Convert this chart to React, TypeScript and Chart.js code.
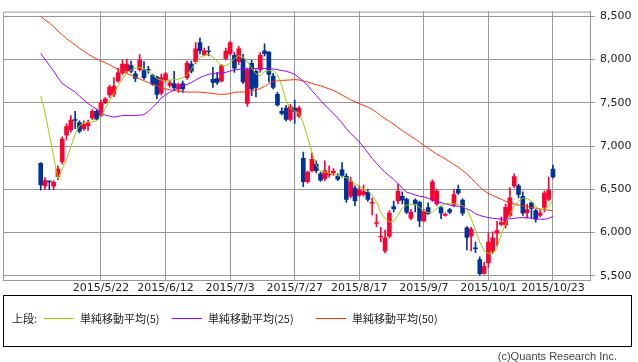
import React, { useEffect, useRef } from 'react';
import { Chart, registerables } from 'chart.js';

Chart.register(...registerables);

// Trading-day index of the first candle (2015/5/22 = 0)
const FIRST_INDEX = -14;

const opens = [
  6800, 6540, 6595, 6535, 6645, 6820, 7125, 7190, 7305, 7270, 7200, 7235, 7325, 7400,
  7350, 7500, 7590, 7600, 7752, 7845, 7870, 7930, 7834, 7881,
  7870, 7885, 7815, 7797, 7611, 7760, 7700, 7722, 7660, 7722,
  7789, 7945, 7974, 8194, 8053, 8095, 7770, 7780, 7752, 8011,
  8067, 8048, 7975, 8010, 7493, 7956, 7863, 7881, 8100, 8085,
  7808, 7597, 7400, 7437, 7308, 7437, 7345, 6857, 6587, 6716,
  6790, 6679, 6624, 6670, 6690, 6650, 6725, 6650, 6420, 6513,
  6430, 6440, 6465, 6340, 6105, 5950, 5790, 5958, 6300, 6365,
  6420, 6383, 6168, 6375, 6350, 6135, 6290, 6375, 6330, 6290,
  6200, 6265, 6317, 6500, 6375, 6055, 5960, 5825, 5690, 5530,
  5650, 5790, 5995, 6095, 6088, 6200, 6540, 6540, 6420, 6227,
  6345, 6254, 6200, 6290, 6383, 6735,
];
const highs = [
  6810, 6635, 6600, 6600, 6770, 7105, 7260, 7350, 7400, 7290, 7290, 7300, 7420, 7420,
  7530, 7560, 7700, 7790, 7900, 7992, 8003, 7980, 7863, 8055,
  7974, 7920, 7830, 7808, 7830, 7850, 7760, 7863, 7730, 7750,
  7980, 7980, 8194, 8249, 8130, 8150, 7908, 7850, 7940, 8130,
  8210, 8080, 8150, 8060, 7900, 7990, 7880, 8080, 8180, 8090,
  7840, 7620, 7440, 7470, 7480, 7530, 7460, 6930, 6710, 6920,
  6830, 6700, 6830, 6770, 6740, 6680, 6810, 6680, 6640, 6540,
  6540, 6550, 6500, 6400, 6215, 6060, 6030, 6254, 6365, 6560,
  6470, 6400, 6270, 6390, 6365, 6270, 6345, 6610, 6500, 6300,
  6230, 6280, 6500, 6550, 6390, 6070, 6060, 5890, 5720, 5660,
  6000, 6010, 6130, 6180, 6330, 6520, 6680, 6560, 6470, 6330,
  6350, 6270, 6270, 6480, 6640, 6780,
];
const lows = [
  6490, 6495, 6495, 6495, 6610, 6790, 7070, 7160, 7200, 7150, 7180, 7180, 7300, 7300,
  7340, 7490, 7560, 7570, 7734, 7826, 7845, 7845, 7744, 7863,
  7768, 7840, 7700, 7548, 7590, 7740, 7680, 7641, 7620, 7620,
  7770, 7845, 7955, 8064, 8040, 8040, 7678, 7710, 7740, 7990,
  8050, 7850, 7940, 7720, 7456, 7580, 7567, 7850, 8040, 7740,
  7660, 7460, 7360, 7290, 7290, 7260, 7330, 6530, 6570, 6700,
  6690, 6590, 6600, 6640, 6660, 6600, 6640, 6350, 6400, 6310,
  6420, 6420, 6360, 6205, 6070, 5895, 5765, 5940, 6240, 6330,
  6330, 6220, 6150, 6240, 6070, 6125, 6210, 6360, 6310, 6160,
  6190, 6220, 6300, 6440, 6200, 5800, 5790, 5770, 5510, 5520,
  5600, 5760, 5850, 6080, 6050, 6180, 6520, 6400, 6200, 6170,
  6170, 6120, 6180, 6240, 6370, 6630,
];
const closes = [
  6550, 6600, 6585, 6580, 6735, 7080, 7225, 7300, 7295, 7170, 7250, 7270, 7400, 7310,
  7500, 7545, 7680, 7690, 7845, 7945, 7945, 7863, 7781, 7992,
  7789, 7878, 7715, 7597, 7789, 7834, 7730, 7670, 7710, 7660,
  7956, 7863, 8122, 8100, 8100, 8088, 7733, 7733, 7930, 8092,
  8190, 7900, 8122, 7740, 7881, 7660, 7678, 8048, 8067, 7826,
  7678, 7475, 7375, 7308, 7456, 7400, 7437, 6587, 6698, 6846,
  6716, 6605, 6716, 6685, 6710, 6617, 6660, 6383, 6587, 6365,
  6494, 6475, 6383, 6350, 6115, 5960, 5940, 6227, 6275, 6476,
  6375, 6235, 6235, 6335, 6135, 6245, 6220, 6587, 6476, 6225,
  6210, 6235, 6440, 6457, 6225, 5945, 6040, 5815, 5525, 5610,
  5890, 5940, 6025, 6117, 6291, 6402, 6646, 6440, 6227, 6265,
  6280, 6154, 6225, 6457, 6487, 6642,
];

const ma5 = [
  7578, 7390, 7134, 6879, 6624, 6735, 6846, 6990, 7134, 7234, 7262, 7273, 7279, 7290,
  7345, 7434, 7523, 7612, 7695, 7772, 7845, 7878, 7900, 7908,
  7895, 7867, 7817, 7778, 7761, 7756, 7759, 7767, 7772, 7789,
  7828, 7889, 7967, 8022, 8050, 8056, 8028, 7978, 7925, 7928,
  7956, 8011, 8044, 8022, 7978, 7900, 7834, 7811, 7856, 7872,
  7872, 7822, 7700, 7523, 7434, 7406, 7378, 7267, 7101, 6934,
  6779, 6712, 6701, 6687, 6674, 6657, 6646, 6634, 6601, 6568,
  6535, 6507, 6479, 6435, 6357, 6235, 6163, 6124, 6130, 6202,
  6285, 6318, 6327, 6324, 6291, 6254, 6230, 6241, 6280, 6313,
  6330, 6341, 6335, 6327, 6313, 6268, 6157, 6035, 5890, 5791,
  5761, 5758, 5824, 5980, 6102, 6213, 6302, 6363, 6398, 6394,
  6363, 6302, 6265, 6269, 6302, 6379,
];
const ma25 = [
  8067, 8000, 7934, 7867, 7789, 7723, 7689, 7656, 7623, 7578, 7534, 7490, 7456, 7426,
  7384, 7356, 7345, 7334, 7342, 7353, 7353, 7353, 7353, 7356,
  7362, 7401, 7448, 7495, 7556, 7589, 7623, 7645, 7673, 7695,
  7711, 7734, 7761, 7789, 7811, 7828, 7837, 7841, 7845, 7850,
  7867, 7878, 7886, 7889, 7891, 7893, 7896, 7897, 7896, 7893,
  7889, 7881, 7872, 7863, 7848, 7828, 7789, 7750, 7700, 7639,
  7584, 7528, 7473, 7423, 7373, 7323, 7267, 7201, 7145, 7101,
  7046, 6990, 6923, 6857, 6801, 6746, 6696, 6657, 6613, 6568,
  6513, 6468, 6452, 6435, 6420, 6413, 6396, 6379, 6357, 6346,
  6335, 6318, 6309, 6305, 6296, 6274, 6252, 6218, 6198, 6185,
  6174, 6165, 6161, 6155, 6154, 6159, 6166, 6170, 6174, 6171,
  6166, 6159, 6155, 6154, 6163, 6190,
];
const ma50 = [
  8500, 8456, 8422, 8378, 8328, 8284, 8239, 8205, 8167, 8128, 8094, 8061, 8033, 8006,
  7983, 7961, 7939, 7911, 7884, 7861, 7839, 7817, 7797, 7775,
  7752, 7734, 7711, 7695, 7673, 7659, 7650, 7641, 7634, 7628,
  7623, 7623, 7623, 7623, 7617, 7612, 7606, 7600, 7597, 7598,
  7606, 7619, 7623, 7623, 7628, 7639, 7648, 7662, 7689, 7717,
  7745, 7752, 7758, 7760, 7763, 7767, 7763, 7752, 7739, 7723,
  7708, 7695, 7678, 7659, 7641, 7617, 7589, 7561, 7534, 7512,
  7489, 7471, 7451, 7423, 7390, 7351, 7317, 7284, 7251, 7215,
  7179, 7145, 7112, 7079, 7046, 7007, 6974, 6940, 6907, 6879,
  6851, 6818, 6785, 6757, 6718, 6679, 6629, 6579, 6529, 6485,
  6451, 6429, 6407, 6385, 6362, 6346, 6331, 6318, 6307, 6299,
  6291, 6283, 6274, 6266, 6259, 6254,
];

const xTickIndex = [0, 15, 30, 45, 60, 75, 90, 105];
const xTickLabels = ['2015/5/22', '2015/6/12', '2015/7/3', '2015/7/27', '2015/8/17', '2015/9/7', '2015/10/1', '2015/10/23'];
const yTicks = [5500, 6000, 6500, 7000, 7500, 8000, 8500];
const legendPrefix = '上段:';
const legendLabels = ['単純移動平均(5)', '単純移動平均(25)', '単純移動平均(50)'];
const copyright = '(c)Quants Research Inc.';

const UP = '#FF0033';
const DOWN = '#003399';
const MA_COLORS = ['#99CC00', '#9900FF', '#FF3300'];
const GRID = '#999999';
const TEXT = '#222222';

const frame = {
  id: 'frame',
  afterDraw(chart: any) {
    const { ctx, chartArea } = chart;
    ctx.save();
    ctx.strokeStyle = GRID;
    ctx.lineWidth = 1;
    ctx.beginPath();
    ctx.moveTo(chartArea.left + 0.5, chartArea.bottom);
    ctx.lineTo(chartArea.left + 0.5, chartArea.top + 0.5);
    ctx.lineTo(chartArea.right, chartArea.top + 0.5);
    ctx.stroke();
    ctx.restore();
  },
};

export default function App() {
  const ref = useRef<HTMLCanvasElement>(null);
  useEffect(() => {
    if (!ref.current) return;
    const idx = opens.map((_, k) => FIRST_INDEX + k);
    const colors = closes.map((c, k) => (c >= opens[k] ? UP : DOWN));
    const mas = [ma5, ma25, ma50];
    const chart = new Chart(ref.current, {
      type: 'bar',
      data: {
        datasets: [
          ...mas.map((arr, m) => ({
            type: 'line' as const,
            label: legendLabels[m],
            data: arr.map((v, k) => ({ x: idx[k], y: v })),
            borderColor: MA_COLORS[m],
            backgroundColor: MA_COLORS[m],
            borderWidth: 1,
            pointRadius: 0,
            tension: 0,
            order: m,
          })),
          {
            type: 'bar' as const,
            label: 'wick',
            data: idx.map((x, k) => ({ x, y: [lows[k], highs[k]] })),
            backgroundColor: colors,
            barThickness: 1,
            grouped: false,
            borderWidth: 0,
            order: 11,
          },
          {
            type: 'bar' as const,
            label: 'body',
            data: idx.map((x, k) => ({ x, y: [opens[k], closes[k]] })),
            backgroundColor: colors,
            barThickness: 4,
            grouped: false,
            borderWidth: 0,
            order: 10,
          },
        ] as any,
      },
      options: {
        responsive: false,
        animation: false,
        devicePixelRatio: 1,
        layout: { padding: { left: 3, top: 1, right: 0, bottom: 0 } },
        plugins: { legend: { display: false }, tooltip: { enabled: false } },
        scales: {
          x: {
            type: 'linear',
            min: -22.76,
            max: 113.6,
            offset: false,
            afterBuildTicks: (s: any) => {
              s.ticks = xTickIndex.map((v) => ({ value: v }));
            },
            afterFit: (s: any) => {
              s.height = 82;
            },
            ticks: {
              autoSkip: false,
              maxRotation: 0,
              minRotation: 0,
              padding: 2,
              color: TEXT,
              font: { family: 'DejaVu Sans', size: 11 },
              callback: (_v: any, i: number) => xTickLabels[i],
            },
            grid: { color: GRID, lineWidth: 1, drawTicks: false, offset: false },
            border: { display: true, color: GRID },
          },
          y: {
            type: 'linear',
            position: 'right',
            min: 5453,
            max: 8552,
            afterBuildTicks: (s: any) => {
              s.ticks = yTicks.map((v) => ({ value: v }));
            },
            afterFit: (s: any) => {
              s.width = 48;
            },
            ticks: {
              padding: 5,
              color: TEXT,
              font: { family: 'DejaVu Sans', size: 11 },
              callback: (v: any) => Number(v).toLocaleString('en-US'),
            },
            grid: { color: GRID, lineWidth: 1, drawTicks: true, tickLength: 5 },
            border: { display: true, color: GRID },
          },
        },
      } as any,
      plugins: [frame],
    });
    return () => chart.destroy();
  }, []);

  const legendFont: React.CSSProperties = {
    position: 'absolute',
    top: 15,
    fontFamily: '"Noto Sans CJK JP", "Noto Sans", sans-serif',
    fontSize: 11,
    lineHeight: '14px',
    color: TEXT,
    whiteSpace: 'nowrap',
  };
  const lineStyle = (left: number, color: string): React.CSSProperties => ({
    position: 'absolute',
    left,
    top: 22,
    width: 30,
    height: 1,
    background: color,
  });
  const textLefts = [76, 204, 348];
  const lineLefts = [40, 168, 312];

  return (
    <div style={{ position: 'absolute', left: 0, top: 0, width: 638, height: 362, background: '#fff', overflow: 'hidden' }}>
      <canvas ref={ref} width={638} height={362} style={{ display: 'block', width: 638, height: 362 }} />
      <div
        style={{
          position: 'absolute',
          left: 3,
          top: 295,
          width: 629,
          height: 52,
          border: '1px solid #000',
          boxSizing: 'border-box',
        }}
      >
        <span style={{ ...legendFont, left: 8 }}>{legendPrefix}</span>
        {legendLabels.map((t, m) => (
          <React.Fragment key={t}>
            <div style={lineStyle(lineLefts[m], MA_COLORS[m])} />
            <span style={{ ...legendFont, left: textLefts[m] }}>{t}</span>
          </React.Fragment>
        ))}
      </div>
      <div
        style={{
          position: 'absolute',
          right: 21,
          top: 349,
          fontFamily: '"Liberation Sans", sans-serif',
          fontSize: 11,
          lineHeight: '14px',
          color: '#444',
          whiteSpace: 'nowrap',
        }}
      >
        {copyright}
      </div>
    </div>
  );
}
